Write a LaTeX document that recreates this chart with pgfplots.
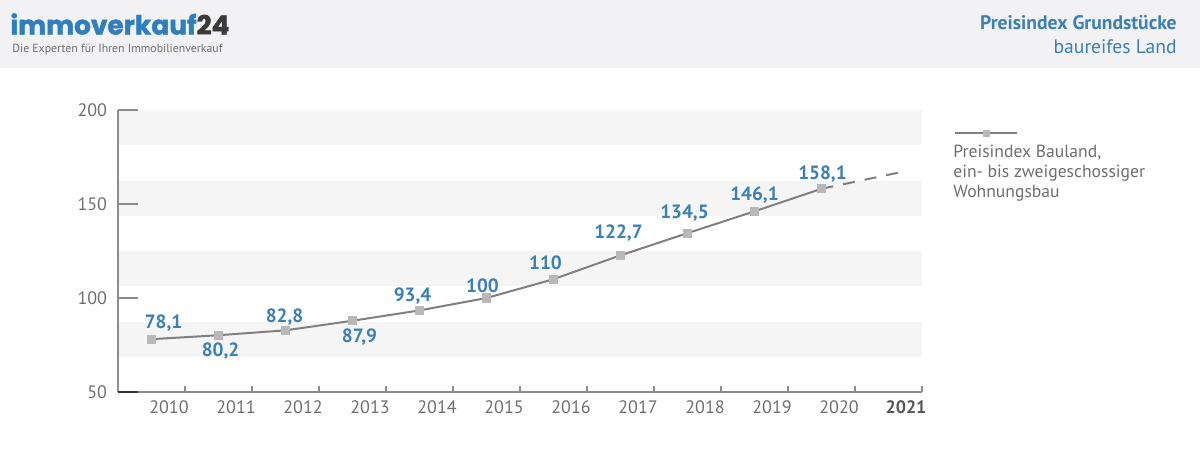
\documentclass[border=0pt]{standalone}
\usepackage{pgfplots}
\pgfplotsset{compat=1.18}
\usepackage{fontspec}
\setmainfont{PT Sans}
\newfontfamily\logofont[BoldFeatures={FakeBold=1.6}]{Poppins}
\definecolor{hdr}{HTML}{F2F2F4}
\definecolor{stripe}{HTML}{F5F5F5}
\definecolor{blu}{HTML}{3A80B5}
\definecolor{logoblu}{HTML}{2F7FBE}
\definecolor{txtgray}{HTML}{6E6E6E}
\definecolor{linegray}{HTML}{808080}
\definecolor{axgray}{HTML}{8C8C8C}
\definecolor{markgray}{HTML}{B8B8B8}
\definecolor{dark}{HTML}{3A3A3A}
\begin{document}
\begin{tikzpicture}[x=0.5pt,y=0.5pt]
\path (0,0) rectangle (1200,463);
\fill[hdr] (0,395) rectangle (1200,463);
% logo
\node[anchor=base west, inner sep=0, font=\logofont\bfseries\fontsize{13.2}{15}\selectfont] at (10,428.5) {\textcolor{logoblu}{immoverkauf}\textcolor{dark}{24}};
\node[anchor=base west, inner sep=0, font=\fontsize{5.9}{7}\selectfont, text=txtgray] at (12,411) {Die Experten für Ihren Immobilienverkauf};
% title
\node[anchor=base east, inner sep=0, font=\fontsize{9.8}{11}\selectfont\bfseries, text=blu] at (1177,434) {Preisindex Grundstücke};
\node[anchor=base east, inner sep=0, font=\fontsize{9.8}{11}\selectfont, text=blu] at (1177,410) {baureifes Land};
% legend
\draw[linegray, line width=1pt] (955,330) -- (1017,330);
\fill[markgray] (982.5,326.5) rectangle (989.5,333.5);
\node[anchor=north west, inner sep=0, align=left, font=\fontsize{8.8}{9.8}\selectfont, text=txtgray] at (953,318) {Preisindex Bauland,\\ein- bis zweigeschossiger\\Wohnungsbau};
\begin{axis}[
  at={(59pt,35.5pt)}, anchor=south west,
  scale only axis, width=402pt, height=141pt,
  xmin=0, xmax=12, ymin=50, ymax=200,
  axis x line*=bottom, axis y line*=left,
  axis line style={axgray, line width=0.7pt, -},
  axis on top,
  tick align=inside,
  xtick={1,2,3,4,5,6,7,8,9,10,11,12},
  xticklabels={2010,2011,2012,2013,2014,2015,2016,2017,2018,2019,2020,\textbf{\textcolor{dark!85}{2021}}},
  ytick={50,100,150,200},
  xtick style={axgray, line width=0.6pt, /pgfplots/major tick length=3pt},
  ytick style={axgray, line width=0.6pt, /pgfplots/major tick length=10pt},
  extra y ticks={50},
  extra y tick labels={},
  extra y tick style={ytick style={black!80, line width=0.8pt, /pgfplots/major tick length=10pt}},
  /pgf/number format/assume math mode=true,
  /pgf/number format/1000 sep={},
  xticklabel style={xshift=-8pt, text=txtgray, font=\fontsize{9}{10}\selectfont},
  yticklabel style={text=txtgray, font=\fontsize{9}{10}\selectfont},
  xticklabel shift=1pt,
  yticklabel shift=2pt,
  clip=false,
]
\fill[stripe] (axis cs:0,181.25) rectangle (axis cs:12,200);
\fill[stripe] (axis cs:0,143.75) rectangle (axis cs:12,162.5);
\fill[stripe] (axis cs:0,106.25) rectangle (axis cs:12,125);
\fill[stripe] (axis cs:0,68.75) rectangle (axis cs:12,87.5);
\addplot[linegray, line width=1pt, dash pattern=on 6pt off 5pt] coordinates {(10.5,158.1) (11.72,167.2)};
\addplot[linegray, line width=1pt, mark=square*, mark size=1.8pt, mark options={solid, fill=markgray, draw=markgray}]
 coordinates {(0.5,78.1) (1.5,80.2) (2.5,82.8) (3.5,87.9) (4.5,93.4) (5.5,100) (6.5,110) (7.5,122.7) (8.5,134.5) (9.5,146.1) (10.5,158.1)};
\tikzset{lbl/.style={font=\fontsize{9.6}{10}\selectfont\bfseries, text=blu, inner sep=0}}
\node[lbl, xshift=6pt, yshift=8pt] at (axis cs:0.5,78.1) {78,1};
\node[lbl, xshift=1pt, yshift=-8pt] at (axis cs:1.5,80.2) {80,2};
\node[lbl, xshift=-0.5pt, yshift=6.5pt] at (axis cs:2.5,82.8) {82,8};
\node[lbl, xshift=3.5pt, yshift=-8pt] at (axis cs:3.5,87.9) {87,9};
\node[lbl, xshift=-3.5pt, yshift=7pt] at (axis cs:4.5,93.4) {93,4};
\node[lbl, xshift=-2pt, yshift=6pt] at (axis cs:5.5,100) {100};
\node[lbl, xshift=-4pt, yshift=8pt] at (axis cs:6.5,110) {110};
\node[lbl, xshift=-1pt, yshift=11pt] at (axis cs:7.5,122.7) {122,7};
\node[lbl, xshift=-1.5pt, yshift=10pt] at (axis cs:8.5,134.5) {134,5};
\node[lbl, xshift=0pt, yshift=8pt] at (axis cs:9.5,146.1) {146,1};
\node[lbl, xshift=0.5pt, yshift=7.5pt] at (axis cs:10.5,158.1) {158,1};
\end{axis}
\end{tikzpicture}
\end{document}
